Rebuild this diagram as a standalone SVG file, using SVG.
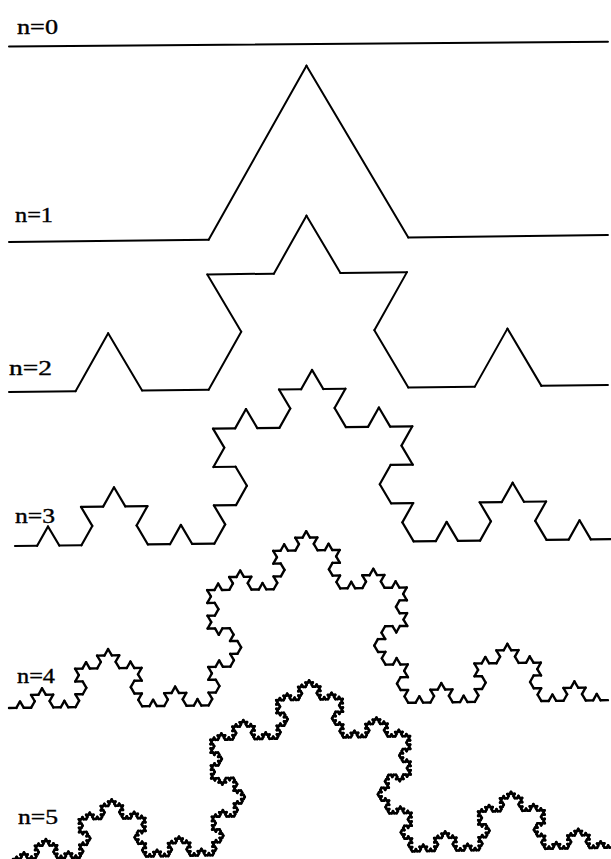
<svg xmlns="http://www.w3.org/2000/svg" xmlns:xlink="http://www.w3.org/1999/xlink" width="611" height="859" viewBox="0 0 611 859">
<style>
.seg{fill:none;stroke:#000;stroke-linecap:round;stroke-linejoin:round}
.lbl{font-family:"Liberation Serif","Times New Roman",serif;font-size:22px;fill:#000;stroke:#000;stroke-width:0.4}
</style>
<defs>
<path id="k0" class="seg" d="M0 0 H600" vector-effect="non-scaling-stroke"/>
<g id="k1">
<use href="#k0" xlink:href="#k0" transform="scale(0.333333)"/>
<use href="#k0" xlink:href="#k0" transform="translate(200,0) rotate(-60) scale(0.333333)"/>
<use href="#k0" xlink:href="#k0" transform="translate(300,-173.205) rotate(60) scale(0.333333)"/>
<use href="#k0" xlink:href="#k0" transform="translate(400,0) scale(0.333333)"/>
</g>
<g id="k2">
<use href="#k1" xlink:href="#k1" transform="scale(0.333333)"/>
<use href="#k1" xlink:href="#k1" transform="translate(200,0) rotate(-60) scale(0.333333)"/>
<use href="#k1" xlink:href="#k1" transform="translate(300,-173.205) rotate(60) scale(0.333333)"/>
<use href="#k1" xlink:href="#k1" transform="translate(400,0) scale(0.333333)"/>
</g>
<g id="k3">
<use href="#k2" xlink:href="#k2" transform="scale(0.333333)"/>
<use href="#k2" xlink:href="#k2" transform="translate(200,0) rotate(-60) scale(0.333333)"/>
<use href="#k2" xlink:href="#k2" transform="translate(300,-173.205) rotate(60) scale(0.333333)"/>
<use href="#k2" xlink:href="#k2" transform="translate(400,0) scale(0.333333)"/>
</g>
<g id="k4">
<use href="#k3" xlink:href="#k3" transform="scale(0.333333)"/>
<use href="#k3" xlink:href="#k3" transform="translate(200,0) rotate(-60) scale(0.333333)"/>
<use href="#k3" xlink:href="#k3" transform="translate(300,-173.205) rotate(60) scale(0.333333)"/>
<use href="#k3" xlink:href="#k3" transform="translate(400,0) scale(0.333333)"/>
</g>
<g id="k5">
<use href="#k4" xlink:href="#k4" transform="scale(0.333333)"/>
<use href="#k4" xlink:href="#k4" transform="translate(200,0) rotate(-60) scale(0.333333)"/>
<use href="#k4" xlink:href="#k4" transform="translate(300,-173.205) rotate(60) scale(0.333333)"/>
<use href="#k4" xlink:href="#k4" transform="translate(400,0) scale(0.333333)"/>
</g>
</defs>
<rect width="611" height="859" fill="#fff"/>
<g id="curve-n0">
<text class="lbl" x="17" y="34" textLength="41" lengthAdjust="spacingAndGlyphs">n=0</text>
<use href="#k0" xlink:href="#k0" stroke-width="2" transform="translate(9,46.5) rotate(-0.45) scale(0.9983)"/>
</g>
<g id="curve-n1">
<text class="lbl" x="15" y="222" textLength="38" lengthAdjust="spacingAndGlyphs">n=1</text>
<use href="#k1" xlink:href="#k1" stroke-width="2" transform="translate(9,242) rotate(-0.66) scale(0.9983)"/>
</g>
<g id="curve-n2">
<text class="lbl" x="9" y="375" textLength="43" lengthAdjust="spacingAndGlyphs">n=2</text>
<use href="#k2" xlink:href="#k2" stroke-width="2" transform="translate(9,392) rotate(-0.66) scale(0.9983)"/>
</g>
<g id="curve-n3">
<text class="lbl" x="15" y="523" textLength="40" lengthAdjust="spacingAndGlyphs">n=3</text>
<use href="#k3" xlink:href="#k3" stroke-width="2.2" transform="translate(15,546) rotate(-0.66) scale(0.9967)"/>
</g>
<g id="curve-n4">
<text class="lbl" x="17" y="683" textLength="38" lengthAdjust="spacingAndGlyphs">n=4</text>
<use href="#k4" xlink:href="#k4" stroke-width="2.4" transform="translate(9,708) rotate(-0.75) scale(0.9983)"/>
</g>
<g id="curve-n5">
<text class="lbl" x="18" y="824" textLength="40" lengthAdjust="spacingAndGlyphs">n=5</text>
<use href="#k5" xlink:href="#k5" stroke-width="2.6" transform="translate(13,859) rotate(-1.1) scale(0.9983)"/>
</g>
</svg>
